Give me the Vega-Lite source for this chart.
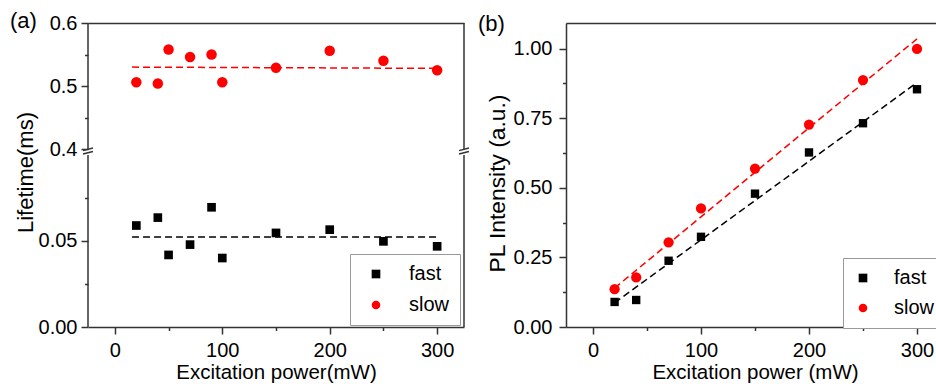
{
  "$schema": "https://vega.github.io/schema/vega-lite/v6.json",
  "padding": {"left": 10, "top": 10, "right": -10, "bottom": 0},
  "config": {
    "font": "Liberation Sans",
    "view": {"stroke": null},
    "axis": {
      "grid": false,
      "domainColor": "#333333",
      "domainWidth": 1.5,
      "tickColor": "#333333",
      "tickWidth": 1.5,
      "labelColor": "#000000",
      "labelFont": "Liberation Sans",
      "labelFontSize": 20,
      "titleColor": "#000000",
      "titleFont": "Liberation Sans",
      "titleFontWeight": "normal",
      "titleFontSize": 20.5,
      "labelFlush": false,
      "labelOverlap": false
    }
  },
  "datasets": {
    "lifetime": [
      {"power": 20, "series": "fast", "lifetime": 0.059},
      {"power": 40, "series": "fast", "lifetime": 0.0636},
      {"power": 50, "series": "fast", "lifetime": 0.0419},
      {"power": 70, "series": "fast", "lifetime": 0.0479},
      {"power": 90, "series": "fast", "lifetime": 0.0696},
      {"power": 100, "series": "fast", "lifetime": 0.0401},
      {"power": 150, "series": "fast", "lifetime": 0.0547},
      {"power": 200, "series": "fast", "lifetime": 0.0566},
      {"power": 250, "series": "fast", "lifetime": 0.0498},
      {"power": 300, "series": "fast", "lifetime": 0.0469},
      {"power": 20, "series": "slow", "lifetime": 0.506},
      {"power": 40, "series": "slow", "lifetime": 0.504},
      {"power": 50, "series": "slow", "lifetime": 0.558},
      {"power": 70, "series": "slow", "lifetime": 0.546},
      {"power": 90, "series": "slow", "lifetime": 0.55},
      {"power": 100, "series": "slow", "lifetime": 0.506},
      {"power": 150, "series": "slow", "lifetime": 0.529},
      {"power": 200, "series": "slow", "lifetime": 0.556},
      {"power": 250, "series": "slow", "lifetime": 0.54},
      {"power": 300, "series": "slow", "lifetime": 0.525}
    ],
    "lifetimeFit": [
      {"power": 16, "series": "fast", "lifetime": 0.0523},
      {"power": 302, "series": "fast", "lifetime": 0.0523},
      {"power": 16, "series": "slow", "lifetime": 0.53},
      {"power": 302, "series": "slow", "lifetime": 0.528}
    ],
    "pl": [
      {"power": 20, "series": "fast", "intensity": 0.09},
      {"power": 40, "series": "fast", "intensity": 0.097},
      {"power": 70, "series": "fast", "intensity": 0.238},
      {"power": 100, "series": "fast", "intensity": 0.324},
      {"power": 150, "series": "fast", "intensity": 0.479},
      {"power": 200, "series": "fast", "intensity": 0.627},
      {"power": 250, "series": "fast", "intensity": 0.732},
      {"power": 300, "series": "fast", "intensity": 0.854},
      {"power": 20, "series": "slow", "intensity": 0.136},
      {"power": 40, "series": "slow", "intensity": 0.178},
      {"power": 70, "series": "slow", "intensity": 0.304},
      {"power": 100, "series": "slow", "intensity": 0.426},
      {"power": 150, "series": "slow", "intensity": 0.569},
      {"power": 200, "series": "slow", "intensity": 0.727},
      {"power": 250, "series": "slow", "intensity": 0.887},
      {"power": 300, "series": "slow", "intensity": 0.999}
    ],
    "plFit": [
      {"power": 20, "series": "fast", "intensity": 0.087},
      {"power": 300, "series": "fast", "intensity": 0.878},
      {"power": 20, "series": "slow", "intensity": 0.14},
      {"power": 300, "series": "slow", "intensity": 1.035}
    ]
  },
  "hconcat": [
    {
      "width": 376,
      "height": 304,
      "title": {"text": "(a)", "anchor": "start", "frame": "group", "fontSize": 22, "fontWeight": "normal", "font": "Liberation Sans", "color": "#000000", "dx": -78, "offset": -37, "baseline": "alphabetic"},
      "layer": [
        {
          "data": {"name": "lifetime"},
          "transform": [{"filter": "datum.series === 'slow'"}],
          "mark": {"type": "point", "filled": true, "opacity": 1, "size": 110},
          "encoding": {
            "x": {"field": "power", "type": "quantitative", "scale": {"domain": [-25, 325], "nice": false, "zero": false},
              "axis": {"orient": "bottom", "values": [0, 100, 200, 300], "format": "d", "tickSize": 7, "labelPadding": 6, "title": "Excitation power(mW)", "titlePadding": 2}},
            "y": {"field": "lifetime", "type": "quantitative", "scale": {"domain": [0.1175, 0.6], "nice": false, "zero": false},
              "axis": {"orient": "left", "values": [0.4, 0.5, 0.6], "format": ".1f", "domain": false, "tickSize": 7, "labelPadding": 4, "title": null}},
            "color": {"field": "series", "type": "nominal", "scale": {"domain": ["fast", "slow"], "range": ["#000000", "#ff0000"]},
              "legend": {"orient": "none", "legendX": 262, "legendY": 231, "title": null, "padding": 10, "symbolOffset": 6, "labelOffset": 23, "rowPadding": 11, "strokeColor": "#999999", "fillColor": "#ffffff", "labelFontSize": 20, "labelColor": "#000000", "symbolSize": 75, "symbolStrokeWidth": 0}},
            "shape": {"field": "series", "type": "nominal", "scale": {"domain": ["fast", "slow"], "range": ["square", "circle"]},
              "legend": {"orient": "none", "legendX": 262, "legendY": 231, "title": null, "padding": 10, "symbolOffset": 6, "labelOffset": 23, "rowPadding": 11, "strokeColor": "#999999", "fillColor": "#ffffff", "labelFontSize": 20, "labelColor": "#000000", "symbolSize": 75, "symbolStrokeWidth": 0}}
          }
        },
        {
          "data": {"name": "lifetimeFit"},
          "transform": [{"filter": "datum.series === 'slow'"}],
          "mark": {"type": "line", "color": "#ff0000", "strokeDash": [7, 4], "strokeWidth": 1.5},
          "encoding": {
            "x": {"field": "power", "type": "quantitative", "scale": {"domain": [-25, 325], "nice": false, "zero": false},
              "axis": {"orient": "bottom", "values": [50, 150, 250], "tickSize": 3.5, "labels": false, "domain": false, "title": null}},
            "y": {"field": "lifetime", "type": "quantitative", "scale": {"domain": [0.1175, 0.6], "nice": false, "zero": false},
              "axis": {"orient": "left", "values": [0.45, 0.55], "tickSize": 3.5, "labels": false, "domain": false, "title": null}}
          }
        },
        {
          "data": {"name": "lifetime"},
          "transform": [{"filter": "datum.series === 'fast'"}],
          "mark": {"type": "point", "filled": true, "opacity": 1, "size": 75},
          "encoding": {
            "x": {"field": "power", "type": "quantitative", "scale": {"domain": [-25, 325], "nice": false, "zero": false},
              "axis": {"orient": "top", "ticks": false, "labels": false, "domain": true, "title": null}},
            "y": {"field": "lifetime", "type": "quantitative", "scale": {"domain": [0, 0.17674], "nice": false, "zero": false},
              "axis": {"orient": "left", "values": [0, 0.05], "format": ".2f", "domain": false, "tickSize": 7, "labelPadding": 4, "title": "Lifetime(ms)", "titleFontSize": 22, "titleX": -56, "titleY": 149, "titleBaseline": "alphabetic"}},
            "color": {"field": "series", "type": "nominal", "scale": {"domain": ["fast", "slow"], "range": ["#000000", "#ff0000"]},
              "legend": {"orient": "none", "legendX": 262, "legendY": 231, "title": null, "padding": 10, "symbolOffset": 6, "labelOffset": 23, "rowPadding": 11, "strokeColor": "#999999", "fillColor": "#ffffff", "labelFontSize": 20, "labelColor": "#000000", "symbolSize": 75, "symbolStrokeWidth": 0}},
            "shape": {"field": "series", "type": "nominal", "scale": {"domain": ["fast", "slow"], "range": ["square", "circle"]},
              "legend": {"orient": "none", "legendX": 262, "legendY": 231, "title": null, "padding": 10, "symbolOffset": 6, "labelOffset": 23, "rowPadding": 11, "strokeColor": "#999999", "fillColor": "#ffffff", "labelFontSize": 20, "labelColor": "#000000", "symbolSize": 75, "symbolStrokeWidth": 0}}
          }
        },
        {
          "data": {"name": "lifetimeFit"},
          "transform": [{"filter": "datum.series === 'fast'"}],
          "mark": {"type": "line", "color": "#000000", "strokeDash": [7, 4], "strokeWidth": 1.5},
          "encoding": {
            "x": {"field": "power", "type": "quantitative", "scale": {"domain": [-25, 325], "nice": false, "zero": false}, "axis": null},
            "y": {"field": "lifetime", "type": "quantitative", "scale": {"domain": [0, 0.17674], "nice": false, "zero": false},
              "axis": {"orient": "left", "values": [0.025, 0.075], "tickSize": 3.5, "labels": false, "domain": false, "title": null}}
          }
        },
        {
          "data": {"values": [{}]},
          "mark": {"type": "rule", "color": "#333333", "strokeWidth": 1.5},
          "encoding": {
            "x": {"datum": -25, "type": "quantitative", "scale": {"domain": [-25, 325], "nice": false, "zero": false}, "axis": null},
            "y": {"datum": 0.4, "type": "quantitative", "scale": {"domain": [0.1175, 0.6], "nice": false, "zero": false}, "axis": null},
            "y2": {"datum": 0.6}
          }
        },
        {
          "data": {"values": [{}]},
          "mark": {"type": "rule", "color": "#333333", "strokeWidth": 1.5},
          "encoding": {
            "x": {"datum": 325, "type": "quantitative", "scale": {"domain": [-25, 325], "nice": false, "zero": false}, "axis": null},
            "y": {"datum": 0.4, "type": "quantitative", "scale": {"domain": [0.1175, 0.6], "nice": false, "zero": false}, "axis": null},
            "y2": {"datum": 0.6}
          }
        },
        {
          "data": {"values": [{}]},
          "mark": {"type": "rule", "color": "#333333", "strokeWidth": 1.5},
          "encoding": {
            "x": {"datum": -25, "type": "quantitative", "scale": {"domain": [-25, 325], "nice": false, "zero": false}, "axis": null},
            "y": {"datum": 0, "type": "quantitative", "scale": {"domain": [0, 0.17674], "nice": false, "zero": false}, "axis": null},
            "y2": {"datum": 0.1}
          }
        },
        {
          "data": {"values": [{}]},
          "mark": {"type": "rule", "color": "#333333", "strokeWidth": 1.5},
          "encoding": {
            "x": {"datum": 325, "type": "quantitative", "scale": {"domain": [-25, 325], "nice": false, "zero": false}, "axis": null},
            "y": {"datum": 0, "type": "quantitative", "scale": {"domain": [0, 0.17674], "nice": false, "zero": false}, "axis": null},
            "y2": {"datum": 0.1}
          }
        },
        {
          "data": {"values": [{}]},
          "mark": {"type": "point", "filled": false, "opacity": 1, "color": "#333333", "strokeWidth": 1.5, "size": 144, "shape": "M-0.83,-0.07L0.83,-0.49M-0.83,0.49L0.83,0.07"},
          "encoding": {
            "x": {"datum": -25, "type": "quantitative", "scale": {"domain": [-25, 325], "nice": false, "zero": false}, "axis": null},
            "y": {"datum": 0.3968, "type": "quantitative", "scale": {"domain": [0.1175, 0.6], "nice": false, "zero": false}, "axis": null}
          }
        },
        {
          "data": {"values": [{}]},
          "mark": {"type": "point", "filled": false, "opacity": 1, "color": "#333333", "strokeWidth": 1.5, "size": 144, "shape": "M-0.83,-0.07L0.83,-0.49M-0.83,0.49L0.83,0.07"},
          "encoding": {
            "x": {"datum": 325, "type": "quantitative", "scale": {"domain": [-25, 325], "nice": false, "zero": false}, "axis": null},
            "y": {"datum": 0.3968, "type": "quantitative", "scale": {"domain": [0.1175, 0.6], "nice": false, "zero": false}, "axis": null}
          }
        }
      ],
      "resolve": {"scale": {"y": "independent"}, "axis": {"x": "independent", "y": "independent"}}
    },
    {
      "width": 378,
      "height": 304,
      "title": {"text": "(b)", "anchor": "start", "frame": "group", "fontSize": 22, "fontWeight": "normal", "font": "Liberation Sans", "color": "#000000", "dx": -88, "offset": -29.5, "baseline": "alphabetic"},
      "layer": [
        {
          "data": {"name": "pl"},
          "transform": [{"filter": "datum.series === 'fast'"}],
          "mark": {"type": "point", "filled": true, "opacity": 1, "size": 70},
          "encoding": {
            "x": {"field": "power", "type": "quantitative", "scale": {"domain": [-25, 325], "nice": false, "zero": false},
              "axis": {"orient": "bottom", "values": [0, 100, 200, 300], "format": "d", "tickSize": 7, "labelPadding": 6, "title": "Excitation power (mW)", "titlePadding": 2}},
            "y": {"field": "intensity", "type": "quantitative", "scale": {"domain": [0, 1.092], "nice": false, "zero": false},
              "axis": {"orient": "left", "values": [0, 0.25, 0.5, 0.75, 1], "format": ".2f", "domain": true, "tickSize": 7, "labelPadding": 7, "title": "PL Intensity (a.u.)", "titleFontSize": 22.8, "titleX": -62, "titleY": 160, "titleBaseline": "alphabetic"}},
            "color": {"field": "series", "type": "nominal", "scale": {"domain": ["fast", "slow"], "range": ["#000000", "#ff0000"]},
              "legend": {"orient": "none", "legendX": 277, "legendY": 235, "title": null, "padding": 10, "symbolOffset": 0, "labelOffset": 21, "rowPadding": 10, "strokeColor": "#999999", "fillColor": "#ffffff", "labelFontSize": 20, "labelColor": "#000000", "symbolSize": 75, "symbolStrokeWidth": 0}},
            "shape": {"field": "series", "type": "nominal", "scale": {"domain": ["fast", "slow"], "range": ["square", "circle"]},
              "legend": {"orient": "none", "legendX": 277, "legendY": 235, "title": null, "padding": 10, "symbolOffset": 0, "labelOffset": 21, "rowPadding": 10, "strokeColor": "#999999", "fillColor": "#ffffff", "labelFontSize": 20, "labelColor": "#000000", "symbolSize": 75, "symbolStrokeWidth": 0}}
          }
        },
        {
          "data": {"name": "pl"},
          "transform": [{"filter": "datum.series === 'slow'"}],
          "mark": {"type": "point", "filled": true, "opacity": 1, "size": 105},
          "encoding": {
            "x": {"field": "power", "type": "quantitative", "scale": {"domain": [-25, 325], "nice": false, "zero": false},
              "axis": {"orient": "top", "ticks": false, "labels": false, "domain": true, "title": null}},
            "y": {"field": "intensity", "type": "quantitative", "scale": {"domain": [0, 1.092], "nice": false, "zero": false},
              "axis": {"orient": "right", "ticks": false, "labels": false, "domain": true, "title": null}},
            "color": {"field": "series", "type": "nominal", "scale": {"domain": ["fast", "slow"], "range": ["#000000", "#ff0000"]},
              "legend": {"orient": "none", "legendX": 277, "legendY": 235, "title": null, "padding": 10, "symbolOffset": 0, "labelOffset": 21, "rowPadding": 10, "strokeColor": "#999999", "fillColor": "#ffffff", "labelFontSize": 20, "labelColor": "#000000", "symbolSize": 75, "symbolStrokeWidth": 0}},
            "shape": {"field": "series", "type": "nominal", "scale": {"domain": ["fast", "slow"], "range": ["square", "circle"]},
              "legend": {"orient": "none", "legendX": 277, "legendY": 235, "title": null, "padding": 10, "symbolOffset": 0, "labelOffset": 21, "rowPadding": 10, "strokeColor": "#999999", "fillColor": "#ffffff", "labelFontSize": 20, "labelColor": "#000000", "symbolSize": 75, "symbolStrokeWidth": 0}}
          }
        },
        {
          "data": {"name": "plFit"},
          "transform": [{"filter": "datum.series === 'slow'"}],
          "mark": {"type": "line", "color": "#ff0000", "strokeDash": [7, 4], "strokeWidth": 1.5},
          "encoding": {
            "x": {"field": "power", "type": "quantitative", "scale": {"domain": [-25, 325], "nice": false, "zero": false},
              "axis": {"orient": "bottom", "values": [50, 150, 250], "tickSize": 3.5, "labels": false, "domain": false, "title": null}},
            "y": {"field": "intensity", "type": "quantitative", "scale": {"domain": [0, 1.092], "nice": false, "zero": false},
              "axis": {"orient": "left", "values": [0.125, 0.375, 0.625, 0.875], "tickSize": 3.5, "labels": false, "domain": false, "title": null}}
          }
        },
        {
          "data": {"name": "plFit"},
          "transform": [{"filter": "datum.series === 'fast'"}],
          "mark": {"type": "line", "color": "#000000", "strokeDash": [7, 4], "strokeWidth": 1.5},
          "encoding": {
            "x": {"field": "power", "type": "quantitative", "scale": {"domain": [-25, 325], "nice": false, "zero": false}, "axis": null},
            "y": {"field": "intensity", "type": "quantitative", "scale": {"domain": [0, 1.092], "nice": false, "zero": false}, "axis": null}
          }
        }
      ],
      "resolve": {"axis": {"x": "independent", "y": "independent"}}
    }
  ],
  "spacing": 102,
  "bounds": "flush",
  "resolve": {"scale": {"x": "independent", "y": "independent", "color": "independent", "shape": "independent"}}
}
